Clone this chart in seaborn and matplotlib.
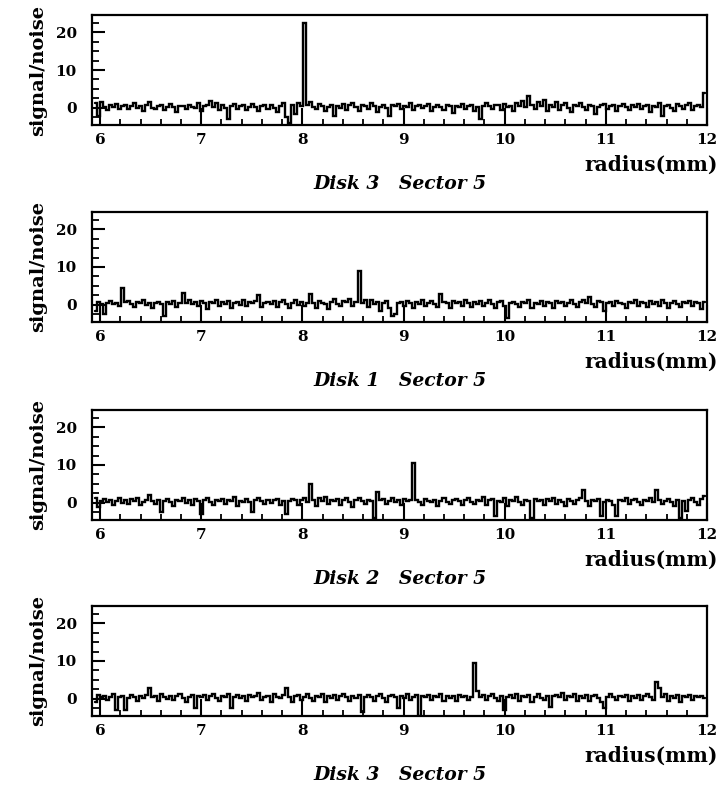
import numpy as np
import pandas as pd
import matplotlib
matplotlib.use("Agg")
import matplotlib.pyplot as plt
from matplotlib.ticker import MultipleLocator
import seaborn as sns

# ---------------- data ----------------
titles = ["Disk 3   Sector 5", "Disk 1   Sector 5", "Disk 2   Sector 5", "Disk 3   Sector 5"]
x_ticks = [6, 7, 8, 9, 10, 11, 12]
y_ticks = [0, 10, 20]
r_start = 5.95   # mm, first strip
r_pitch = 0.03   # mm, strip pitch

sn_panel1 = [
    1.2, -2.0, 1.5, 0.3, -0.5, 0.8, 0.2, 1.0, -0.3, 0.6,
    0.9, -0.2, 0.5, 1.3, 0.0, 0.4, -0.8, 0.7, 1.6, 0.1,
    -0.4, 0.5, 0.9, -0.6, 0.2, 1.1, 0.3, -1.2, 0.6, 0.4,
    -0.3, 0.8, 0.2, -0.1, 1.4, -0.7, 0.5, 0.9, 1.8, 0.3,
    1.2, -0.5, 0.7, 0.1, -3.0, 0.6, 1.0, -0.2, 0.4, 0.8,
    -0.6, 0.3, 1.1, 0.2, -0.9, 0.5, 0.7, -0.3, 0.9, 0.1,
    -1.0, 0.6, 1.3, -2.5, -4.0, 0.8, -1.5, 1.2, 0.4, 22.5,
    0.9, 1.5, 0.2, -0.4, 1.1, 0.6, -0.8, 0.3, 0.9, -2.2,
    0.5, 0.1, 1.0, -0.5, 0.7, 1.4, 0.2, -0.7, 0.8, 0.4,
    -0.2, 1.2, 0.6, -1.1, 0.3, 0.9, 0.0, -2.0, 0.7, 0.5,
    1.0, -0.4, 0.6, 0.2, 1.3, -0.6, 0.4, 0.8, -0.1, 0.5,
    1.1, -0.8, 0.3, 0.7, 0.2, -0.5, 0.9, 0.4, -1.3, 0.6,
    0.2, 1.0, -0.3, 0.5, 0.8, -0.9, 0.3, -3.0, 0.6, 1.2,
    0.4, -0.2, 0.9, 0.7, -0.5, 1.1, 0.3, 0.6, -0.7, 1.4,
    0.5, 1.8, 0.2, 3.2, 0.8, -0.4, 1.5, 0.6, 2.2, -0.8,
    0.9, 0.3, 1.6, -0.6, 0.7, 1.2, 0.1, -1.0, 0.8, 0.4,
    1.3, 0.2, -0.5, 0.9, 0.6, -1.6, 0.3, 0.7, 1.0, -0.3,
    0.5, 0.8, -0.9, 0.4, 1.1, 0.2, -0.6, 0.7, 0.3, 1.0,
    -0.4, 0.6, 0.9, -1.2, 0.5, 0.2, 1.2, -2.0, 0.4, 0.8,
    0.1, -0.7, 1.0, 0.6, -0.3, 0.9, 1.3, -0.5, 0.5, 0.7,
    0.3, 4.0,
]

sn_panel2 = [
    -1.5, 0.8, 0.3, -2.5, 0.6, 1.0, 0.2, 0.5, -0.4, 4.5,
    0.7, 1.1, 0.3, -0.6, 0.9, 0.4, 1.2, 0.0, 0.6, -0.8,
    0.5, 0.9, 0.2, -3.0, 0.7, 0.3, 1.0, -0.5, 0.4, 3.2,
    0.6, 1.3, 0.2, 0.8, -0.3, 1.1, 0.5, -1.0, 0.9, 0.4,
    1.2, -0.2, 0.7, 0.3, 1.0, -0.7, 0.6, 0.9, 0.1, 1.3,
    -0.4, 0.8, 0.5, 1.1, 2.5, -0.6, 0.4, 0.9, 0.2, 1.0,
    -0.5, 0.7, 1.2, 0.3, -0.8, 0.6, 1.4, 0.1, 0.8, -0.3,
    0.5, 3.0, 0.4, -0.9, 1.1, 0.6, 0.2, -1.2, 0.9, 1.5,
    0.3, -0.4, 1.0, 0.7, 1.6, -0.2, 0.8, 9.0, 0.5, 1.2,
    -0.6, 1.4, 0.3, 0.9, -1.5, 0.6, 1.1, -0.8, -3.0, -2.5,
    0.4, 0.8, -0.3, 1.0, 0.5, -0.7, 0.9, 0.3, 1.2, -0.4,
    0.6, 1.0, 0.2, -0.5, 3.0, 0.7, 0.4, -0.9, 1.1, 0.5,
    0.8, -0.2, 1.3, 0.4, -0.6, 0.9, 0.2, 1.0, -0.4, 0.6,
    1.4, 0.3, -0.8, 0.7, 1.1, -0.3, -3.5, 0.5, 0.9, 0.2,
    -0.5, 0.8, 0.4, 1.2, -0.7, 0.6, 0.3, 1.0, -0.2, 0.7,
    0.5, -0.9, 1.1, 0.4, 0.8, -0.4, 0.6, 1.3, 0.2, -0.6,
    0.9, 1.2, 0.5, 2.0, 0.3, -0.5, 1.0, 0.7, -1.5, 0.4,
    0.8, -0.3, 1.1, 0.6, 0.2, -0.8, 0.9, 0.5, 1.3, -0.2,
    0.7, 0.4, -0.6, 1.0, 0.3, 0.8, -0.4, 1.2, 0.5, -0.9,
    0.6, 1.0, 0.2, -0.5, 0.9, 0.4, 1.1, -0.3, 0.7, 0.5,
    -1.0, 0.8,
]

sn_panel3 = [
    1.3, -1.0, 0.5, 1.1, 0.2, 0.8, -0.5, 0.4, 1.2, 0.0,
    0.7, -0.3, 1.0, 0.5, 1.4, -0.6, 0.3, 0.9, 2.0, 0.6,
    -0.4, 0.8, -2.5, 0.5, 1.1, 0.2, -0.7, 0.9, 0.4, 1.3,
    0.1, 0.7, -0.5, 1.0, 0.6, -3.0, 0.8, 1.2, 0.3, -0.6,
    0.9, 0.5, 1.1, -0.2, 0.7, 0.4, 1.5, -0.8, 0.6, 0.2,
    1.0, 0.3, -2.5, 0.8, 1.2, 0.5, -0.4, 0.9, 0.1, 0.7,
    1.1, -0.5, 0.6, -3.0, 0.4, 1.0, 0.7, -0.6, 0.9, 1.3,
    0.2, 5.0, 0.8, -0.7, 1.2, 0.5, 1.6, -0.3, 0.9, 0.4,
    1.1, -0.5, 0.7, 1.4, 0.3, -1.0, 0.8, 1.2, 0.5, -0.4,
    0.9, 0.6, -4.0, 3.0, 0.7, 1.1, -0.3, 0.5, 1.3, 0.2,
    0.8, -0.6, 1.0, 0.4, 0.7, 10.5, 0.9, 0.3, -0.5, 1.1,
    0.6, 0.2, 0.9, -0.8, 0.5, 1.2, 0.3, -0.4, 0.7, 1.0,
    0.4, -0.6, 0.8, 1.3, 0.2, -0.3, 0.9, 0.5, 1.5, -0.5,
    0.7, 1.0, -3.5, 0.6, 0.3, 1.2, -0.7, 0.8, 0.4, 1.6,
    0.2, -0.5, 0.9, 0.6, -4.0, 1.1, 0.4, 0.8, -0.6, 1.0,
    0.5, 1.3, -0.2, 0.7, 0.3, -0.9, 1.0, 0.6, -0.4, 0.8,
    1.2, 3.5, 0.4, -0.7, 0.9, 0.5, 1.1, -3.5, 0.3, 0.8,
    0.6, -0.5, -3.5, 0.9, 0.4, 1.2, -0.3, 0.7, 1.0, 0.2,
    -0.6, 0.8, 0.5, 1.4, 0.3, 3.5, 0.9, -0.4, 0.6, 1.1,
    0.2, -0.8, 0.7, -4.0, 0.5, -2.0, 0.9, 1.2, 0.3, -0.5,
    1.0, 1.8,
]

sn_panel4 = [
    -0.8, 1.0, 0.4, 0.9, -0.3, 0.6, 1.2, -3.0, 0.5, 0.8,
    -3.0, 0.3, 1.1, 0.6, -0.5, 0.9, 0.2, 1.0, 3.0, 0.4,
    0.8, -0.6, 1.2, 0.5, 0.1, 0.9, -0.4, 0.7, 1.3, 0.3,
    -0.7, 0.6, 1.0, -2.5, 0.8, 0.4, 1.1, -0.2, 0.7, 1.4,
    0.3, -0.5, 0.9, 0.5, 1.2, -2.5, 0.6, 1.0, 0.2, 0.8,
    -0.6, 1.1, 0.4, 0.7, 1.5, -0.3, 0.5, 0.9, -0.8, 1.2,
    0.6, 0.3, 1.0, 3.0, 0.4, -0.7, 0.8, 1.1, -0.4, 0.6,
    1.3, 0.2, -0.5, 0.9, 0.5, 1.2, -0.9, 0.7, 0.3, 1.0,
    -0.2, 0.8, 1.4, 0.5, -0.6, 0.9, 0.3, 1.1, -3.5, 0.6,
    1.0, 0.4, -0.5, 0.8, 1.3, 0.2, -0.8, 0.7, 1.0, 0.5,
    -2.5, 0.9, 0.3, 1.2, -0.4, 0.6, 1.0, -4.5, 0.7, 0.4,
    1.1, -0.3, 0.8, 0.5, 1.3, -0.6, 0.9, 0.2, 0.7, -0.5,
    1.0, 0.4, 0.8, -0.3, 0.6, 9.5, 2.0, 0.5, 1.1, -0.4,
    0.7, 1.2, 0.3, -0.6, 0.9, -3.0, 0.5, 1.0, 0.2, 1.4,
    -0.5, 0.8, 0.4, 1.1, -0.7, 0.6, 1.3, 0.3, -0.4, 0.9,
    -2.0, 0.7, 1.0, 0.4, 1.6, -0.3, 0.8, 0.5, 1.2, -0.6,
    0.9, 0.3, 1.1, -0.5, 0.7, 1.0, 0.2, -0.8, -2.5, 0.6,
    1.2, 0.4, -0.3, 0.9, 0.5, 1.1, -0.6, 0.8, 0.3, 1.0,
    -0.4, 0.7, 1.3, 0.5, -0.2, 4.5, 3.0, 0.6, 1.2, -0.5,
    0.8, 0.3, 1.0, -0.7, 0.9, 0.5, 1.1, -0.3, 0.7, 0.4,
    0.9, 0.2,
]

panels = [sn_panel1, sn_panel2, sn_panel3, sn_panel4]

# ---------------- style ----------------
sns.set_style("ticks")
plt.rcParams["font.family"] = ["DejaVu Serif"]
plt.rcParams["font.weight"] = "bold"
for key in ["text.color", "axes.labelcolor", "xtick.color", "ytick.color",
            "axes.edgecolor"]:
    plt.rcParams[key] = "black"

W, H = 721, 790
fig = plt.figure(figsize=(W / 100, H / 100), dpi=100)

left_px, right_px = 92, 707
tops_px = [15, 212, 410, 606]
height_px = 110

for k, (vals, title) in enumerate(zip(panels, titles)):
    top = tops_px[k]
    ax = fig.add_axes([left_px / W, 1 - (top + height_px) / H,
                       (right_px - left_px) / W, height_px / H])
    radius = r_start + r_pitch * np.arange(len(vals))
    df = pd.DataFrame({"radius": radius, "sn": vals})
    sns.lineplot(data=df, x="radius", y="sn", ax=ax, color="black",
                 linewidth=1.7, drawstyle="steps-mid", estimator=None,
                 solid_joinstyle="miter")
    ax.set_xlim(5.92, 12.0)
    ax.set_ylim(-4.5, 24.5)
    ax.set_xticks(x_ticks)
    ax.set_yticks(y_ticks)
    ax.xaxis.set_minor_locator(MultipleLocator(0.2))
    ax.yaxis.set_minor_locator(MultipleLocator(2.5))
    ax.tick_params(axis="x", which="major", direction="in", length=12,
                   width=1.5, pad=6, labelsize=11, top=False,
                   colors="black")
    ax.tick_params(axis="x", which="minor", direction="in", length=4.5,
                   width=1.3, top=False, colors="black")
    ax.tick_params(axis="y", which="major", direction="in", length=9,
                   width=1.5, pad=11, labelsize=11, right=False,
                   colors="black")
    ax.tick_params(axis="y", which="minor", direction="in", length=5,
                   width=1.3, right=False, colors="black")
    for lab in ax.get_xticklabels() + ax.get_yticklabels():
        lab.set_fontweight("bold")
    for s in ax.spines.values():
        s.set_visible(True)
        s.set_linewidth(1.6)
        s.set_color("black")
    ax.set_xlabel("")
    ax.set_ylabel("signal/noise", fontsize=14, fontweight="bold", labelpad=6,
                  color="black")
    # x-axis caption and panel title
    fig.text(718 / W, 1 - (top + height_px + 40) / H, "radius(mm)",
             ha="right", va="center", fontsize=14.5, fontweight="bold",
             color="black")
    fig.text(400 / W, 1 - (top + height_px + 59) / H, title,
             ha="center", va="center", fontsize=13.5, fontweight="bold",
             fontstyle="italic", color="black")

fig.savefig("out.png", dpi=100, facecolor="white")
